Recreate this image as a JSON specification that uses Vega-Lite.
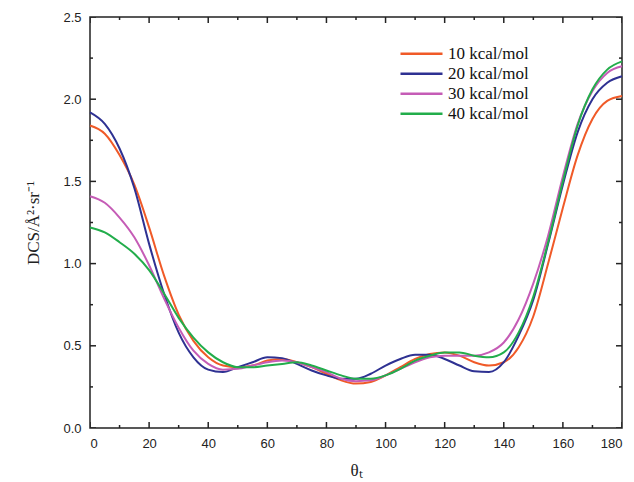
{
  "$schema": "https://vega.github.io/schema/vega-lite/v6.json",
  "width": 532,
  "height": 411,
  "autosize": {"type": "none"},
  "padding": {"left": 90, "top": 17, "right": 12, "bottom": 54},
  "background": "white",
  "config": {
    "view": {"stroke": "#222222", "strokeWidth": 1.5},
    "axis": {"domain": false, "ticks": false, "grid": false, "labelFont": "Liberation Sans", "labelFontSize": 13, "labelColor": "#222", "titleFont": "Liberation Serif", "titleFontWeight": "normal", "titleFontSize": 17, "titleColor": "#222"},
    "legend": {"labelFont": "Liberation Serif", "labelFontSize": 17, "labelColor": "#111", "padding": 0}
  },
  "datasets": {
    "curves": [
      {"t": 0, "a": 1.84, "b": 1.92, "c": 1.41, "d": 1.22},
      {"t": 5, "a": 1.79, "b": 1.85, "c": 1.37, "d": 1.19},
      {"t": 10, "a": 1.66, "b": 1.70, "c": 1.28, "d": 1.13},
      {"t": 15, "a": 1.48, "b": 1.46, "c": 1.16, "d": 1.06},
      {"t": 20, "a": 1.22, "b": 1.12, "c": 0.99, "d": 0.96},
      {"t": 25, "a": 0.93, "b": 0.82, "c": 0.79, "d": 0.82},
      {"t": 30, "a": 0.69, "b": 0.58, "c": 0.61, "d": 0.67},
      {"t": 35, "a": 0.53, "b": 0.43, "c": 0.47, "d": 0.55},
      {"t": 40, "a": 0.43, "b": 0.355, "c": 0.39, "d": 0.46},
      {"t": 45, "a": 0.38, "b": 0.34, "c": 0.355, "d": 0.40},
      {"t": 50, "a": 0.37, "b": 0.37, "c": 0.36, "d": 0.37},
      {"t": 55, "a": 0.38, "b": 0.40, "c": 0.38, "d": 0.37},
      {"t": 60, "a": 0.41, "b": 0.43, "c": 0.40, "d": 0.38},
      {"t": 65, "a": 0.42, "b": 0.425, "c": 0.41, "d": 0.39},
      {"t": 70, "a": 0.40, "b": 0.39, "c": 0.40, "d": 0.40},
      {"t": 75, "a": 0.37, "b": 0.35, "c": 0.37, "d": 0.38},
      {"t": 80, "a": 0.33, "b": 0.32, "c": 0.34, "d": 0.35},
      {"t": 85, "a": 0.29, "b": 0.30, "c": 0.30, "d": 0.32},
      {"t": 90, "a": 0.27, "b": 0.30, "c": 0.285, "d": 0.30},
      {"t": 95, "a": 0.28, "b": 0.33, "c": 0.29, "d": 0.30},
      {"t": 100, "a": 0.32, "b": 0.38, "c": 0.32, "d": 0.32},
      {"t": 105, "a": 0.37, "b": 0.42, "c": 0.36, "d": 0.36},
      {"t": 110, "a": 0.42, "b": 0.445, "c": 0.40, "d": 0.41},
      {"t": 115, "a": 0.45, "b": 0.445, "c": 0.43, "d": 0.44},
      {"t": 120, "a": 0.46, "b": 0.42, "c": 0.44, "d": 0.46},
      {"t": 125, "a": 0.44, "b": 0.38, "c": 0.44, "d": 0.46},
      {"t": 130, "a": 0.40, "b": 0.345, "c": 0.44, "d": 0.44},
      {"t": 135, "a": 0.38, "b": 0.34, "c": 0.46, "d": 0.43},
      {"t": 140, "a": 0.40, "b": 0.40, "c": 0.52, "d": 0.46},
      {"t": 145, "a": 0.49, "b": 0.56, "c": 0.66, "d": 0.58},
      {"t": 150, "a": 0.68, "b": 0.78, "c": 0.88, "d": 0.80},
      {"t": 155, "a": 1.00, "b": 1.12, "c": 1.17, "d": 1.13},
      {"t": 160, "a": 1.34, "b": 1.48, "c": 1.53, "d": 1.50},
      {"t": 165, "a": 1.66, "b": 1.80, "c": 1.85, "d": 1.84},
      {"t": 170, "a": 1.88, "b": 2.00, "c": 2.05, "d": 2.06},
      {"t": 175, "a": 1.99, "b": 2.10, "c": 2.16, "d": 2.18},
      {"t": 180, "a": 2.02, "b": 2.14, "c": 2.20, "d": 2.23}
    ],
    "xmajor": [{"p": 0}, {"p": 20}, {"p": 40}, {"p": 60}, {"p": 80}, {"p": 100}, {"p": 120}, {"p": 140}, {"p": 160}, {"p": 180}],
    "xminor": [{"p": 10}, {"p": 30}, {"p": 50}, {"p": 70}, {"p": 90}, {"p": 110}, {"p": 130}, {"p": 150}, {"p": 170}],
    "ymajor": [{"p": 0}, {"p": 0.5}, {"p": 1}, {"p": 1.5}, {"p": 2}, {"p": 2.5}],
    "yminor": [{"p": 0.25}, {"p": 0.75}, {"p": 1.25}, {"p": 1.75}, {"p": 2.25}]
  },
  "layer": [
    {
      "data": {"name": "curves"},
      "transform": [
        {"fold": ["a", "b", "c", "d"], "as": ["k", "v"]},
        {"lookup": "k", "from": {"data": {"values": [
          {"k": "a", "e": "10 kcal/mol"},
          {"k": "b", "e": "20 kcal/mol"},
          {"k": "c", "e": "30 kcal/mol"},
          {"k": "d", "e": "40 kcal/mol"}
        ]}, "key": "k", "fields": ["e"]}}
      ],
      "mark": {"type": "line", "interpolate": "monotone", "strokeWidth": 2},
      "encoding": {
        "x": {"field": "t", "type": "quantitative", "scale": {"domain": [0, 180], "nice": false},
          "axis": {"orient": "bottom", "values": [0, 20, 40, 60, 80, 100, 120, 140, 160, 180], "labelPadding": 9, "title": "θₜ", "titlePadding": 12}},
        "y": {"field": "v", "type": "quantitative", "scale": {"domain": [0, 2.5], "nice": false},
          "axis": {"orient": "left", "values": [0, 0.5, 1, 1.5, 2, 2.5], "format": ".1f", "labelPadding": 9, "title": "DCS/Å²·sr⁻¹", "titlePadding": 20}},
        "color": {"field": "e", "type": "nominal",
          "scale": {"domain": ["10 kcal/mol", "20 kcal/mol", "30 kcal/mol", "40 kcal/mol"], "range": ["#f05a28", "#2e3192", "#c55cb6", "#22ad4b"]},
          "legend": {"title": null, "orient": "none", "legendX": 309, "legendY": 27, "symbolType": "stroke", "symbolSize": 1764, "symbolStrokeWidth": 2.5, "clipHeight": 19.7, "rowPadding": 0, "labelFont": "Liberation Serif", "labelFontSize": 17, "labelOffset": 4}}
      }
    },
    {"data": {"name": "xmajor"}, "mark": {"type": "tick", "orient": "vertical", "size": 12, "thickness": 1.5, "color": "#222222", "opacity": 1, "clip": true},
      "encoding": {"x": {"field": "p", "type": "quantitative"}, "y": {"datum": 0, "type": "quantitative"}}},
    {"data": {"name": "xmajor"}, "mark": {"type": "tick", "orient": "vertical", "size": 12, "thickness": 1.5, "color": "#222222", "opacity": 1, "clip": true},
      "encoding": {"x": {"field": "p", "type": "quantitative"}, "y": {"datum": 2.5, "type": "quantitative"}}},
    {"data": {"name": "xminor"}, "mark": {"type": "tick", "orient": "vertical", "size": 6, "thickness": 1.5, "color": "#222222", "opacity": 1, "clip": true},
      "encoding": {"x": {"field": "p", "type": "quantitative"}, "y": {"datum": 0, "type": "quantitative"}}},
    {"data": {"name": "xminor"}, "mark": {"type": "tick", "orient": "vertical", "size": 6, "thickness": 1.5, "color": "#222222", "opacity": 1, "clip": true},
      "encoding": {"x": {"field": "p", "type": "quantitative"}, "y": {"datum": 2.5, "type": "quantitative"}}},
    {"data": {"name": "ymajor"}, "mark": {"type": "tick", "orient": "horizontal", "size": 12, "thickness": 1.5, "color": "#222222", "opacity": 1, "clip": true},
      "encoding": {"y": {"field": "p", "type": "quantitative"}, "x": {"datum": 0, "type": "quantitative"}}},
    {"data": {"name": "ymajor"}, "mark": {"type": "tick", "orient": "horizontal", "size": 12, "thickness": 1.5, "color": "#222222", "opacity": 1, "clip": true},
      "encoding": {"y": {"field": "p", "type": "quantitative"}, "x": {"datum": 180, "type": "quantitative"}}},
    {"data": {"name": "yminor"}, "mark": {"type": "tick", "orient": "horizontal", "size": 6, "thickness": 1.5, "color": "#222222", "opacity": 1, "clip": true},
      "encoding": {"y": {"field": "p", "type": "quantitative"}, "x": {"datum": 0, "type": "quantitative"}}},
    {"data": {"name": "yminor"}, "mark": {"type": "tick", "orient": "horizontal", "size": 6, "thickness": 1.5, "color": "#222222", "opacity": 1, "clip": true},
      "encoding": {"y": {"field": "p", "type": "quantitative"}, "x": {"datum": 180, "type": "quantitative"}}}
  ]
}
